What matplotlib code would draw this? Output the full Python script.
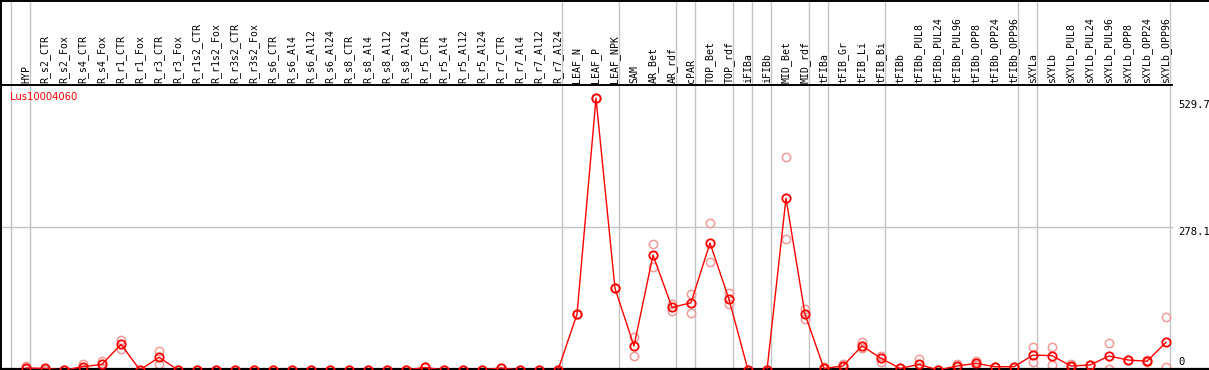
import numpy as np
import matplotlib
matplotlib.use("Agg")
import matplotlib.pyplot as plt
import matplotlib.transforms as mtransforms

# sample names, in plot order
samples = ["HYP",
           "R_s2_CTR", "R_s2_Fox", "R_s4_CTR", "R_s4_Fox", "R_r1_CTR", "R_r1_Fox",
           "R_r3_CTR", "R_r3_Fox", "R_r1s2_CTR", "R_r1s2_Fox", "R_r3s2_CTR", "R_r3s2_Fox",
           "R_s6_CTR", "R_s6_Al4", "R_s6_Al12", "R_s6_Al24", "R_s8_CTR", "R_s8_Al4",
           "R_s8_Al12", "R_s8_Al24", "R_r5_CTR", "R_r5_Al4", "R_r5_Al12", "R_r5_Al24",
           "R_r7_CTR", "R_r7_Al4", "R_r7_Al12", "R_r7_Al24",
           "LEAF_N", "LEAF_P", "LEAF_NPK", "SAM", "AR_Bet", "AR_rdf", "cPAR",
           "TOP_Bet", "TOP_rdf", "iFIBa", "iFIBb", "MID_Bet", "MID_rdf",
           "tFIBa", "tFIB_Gr", "tFIB_Li", "tFIB_Bi", "tFIBb",
           "tFIBb_PUL8", "tFIBb_PUL24", "tFIBb_PUL96", "tFIBb_OPP8", "tFIBb_OPP24", "tFIBb_OPP96",
           "sXYLa", "sXYLb",
           "sXYLb_PUL8", "sXYLb_PUL24", "sXYLb_PUL96", "sXYLb_OPP8", "sXYLb_OPP24", "sXYLb_OPP96"]

# how many samples in each tissue block (grey separators)
group_sizes = [1, 28, 3, 3, 1, 2, 1, 1, 2, 1, 3, 7, 1, 7]

gene = "Lus10004060"

# mean expression
means = [4, 3, 0, 6.4, 11, 50, 0, 24.7, 0, 0, 0, 0, 0,
         0, 0, 0, 0, 0, 0, 0, 0, 5, 0, 0, 0, 4, 0, 0, 0,
         108.6, 529.7, 159, 46.8, 224, 122, 131, 247.6, 137.8, 0, 0, 334.7, 108.6,
         3, 7.8, 47, 22.8, 3, 11, 0, 7.8, 13, 6.4, 6.4,
         29, 28, 7.8, 9.7, 27.3, 19.5, 17, 54]

# replicate values (lighter circles)
rep_a = [7.8, 0, 0, 11.7, 17.5, 58.5, 0, 37.6, 0, 0, 0, 0, 0,
         0, 0, 0, 0, 0, 0, 0, 0, 5, 0, 0, 0, 4, 0, 0, 0,
         108.6, 529.7, 159, 65, 245, 128.7, 148, 286, 150.7, 0, 0, 414.6, 118.3,
         5, 11, 55, 28, 3, 21, 0, 11, 17.5, 6.4, 6.4,
         45, 45, 11.7, 9.7, 52, 19.5, 19, 102.7]
rep_b = [1, 0, 0, 2, 4, 41, 0, 11.7, 0, 0, 0, 0, 0,
         0, 0, 0, 0, 0, 0, 0, 0, 5, 0, 0, 0, 4, 0, 0, 0,
         108.6, 529.7, 159, 27.3, 200, 115.6, 110.5, 210, 128.7, 0, 0, 254.8, 98.8,
         2, 5, 43.5, 16, 3, 2, 0, 5, 9, 6.4, 6.4,
         15, 10, 5, 9.7, 2, 19.5, 15, 5]

ytick_vals = [0, 278.1, 529.7]
ytick_text = ["0", "278.1", "529.7"]

W, H = 1209, 370
fig = plt.figure(figsize=(W / 100, H / 100), dpi=100)

# plot area: from the header line (px 85) down to the bottom line (px 369)
ax = fig.add_axes([0, 1 / H, 1, 284 / H])
x = np.arange(len(samples))
step = 19.0
ax.set_xlim(-26 / step, (W - 26) / step)
pxv = 0.513  # pixels per unit
ax.set_ylim(1 / pxv, 285 / pxv)
for s in ax.spines.values():
    s.set_visible(False)
ax.set_xticks([])
ax.set_yticks([])

grey = "#c4c4c4"
right_end = 1172 / W
mono = "DejaVu Sans Mono"

# block separators, run through the header too
edges = np.concatenate([[0], np.cumsum(group_sizes)]) - 1 + 4 / step
for e in edges:
    ax.axvline(e, ymin=0, ymax=369 / 284, color=grey, lw=1, clip_on=False, zorder=0)
ax.axhline(ytick_vals[1], xmin=0, xmax=right_end, color=grey, lw=1, zorder=0)

# replicates, then the mean line
ax.plot(x, rep_a, "o", ms=6, mfc="none", mec="#f09a9a", mew=1.1, zorder=2)
ax.plot(x, rep_b, "o", ms=6, mfc="none", mec="#f09a9a", mew=1.1, zorder=2)
ax.plot(x, means, "-", color="red", lw=1, zorder=3)
ax.plot(x, means, "o", ms=6, mfc="none", mec="red", mew=1.3, zorder=4)

# sample names in the header
lab_tr = mtransforms.blended_transform_factory(ax.transData, ax.transAxes)
for i, name in enumerate(samples):
    ax.text(i, 1 + 2 / 284, name, transform=lab_tr, rotation=90, ha="center", va="bottom",
            family=mono, fontsize=7.1, color="black", clip_on=False)

# value labels at the right
val_tr = mtransforms.blended_transform_factory(ax.transAxes, ax.transData)
ax.annotate(ytick_text[2], (1178 / W, ytick_vals[2]), xycoords=val_tr, xytext=(0, -1),
            textcoords="offset points", va="top", ha="left",
            family=mono, fontsize=7.6, annotation_clip=False)
ax.annotate(ytick_text[1], (1178 / W, ytick_vals[1]), xycoords=val_tr, xytext=(0, 0),
            textcoords="offset points", va="top", ha="left",
            family=mono, fontsize=7.6, annotation_clip=False)
ax.annotate(ytick_text[0], (1178 / W, ytick_vals[0]), xycoords=val_tr, xytext=(0, 2),
            textcoords="offset points", va="bottom", ha="left",
            family=mono, fontsize=7.6, annotation_clip=False)

ax.text(10 / W, 1 - 12 / 284, gene, transform=ax.transAxes, color="red",
        fontsize=7.2, va="center", ha="left")

# frame: top edge, header line, bottom line, left edge
ax.plot([0, right_end], [1, 1], transform=ax.transAxes, color="black", lw=1.4, clip_on=False)
ax.plot([0, 1], [0, 0], transform=ax.transAxes, color="black", lw=1.6, clip_on=False)
fig.add_artist(plt.Line2D([0, 1], [1 - 0.5 / H, 1 - 0.5 / H], color="black", lw=1.4))
fig.add_artist(plt.Line2D([0.5 / W, 0.5 / W], [0, 1], color="black", lw=1.4))

fig.savefig("out.png", dpi=100)
